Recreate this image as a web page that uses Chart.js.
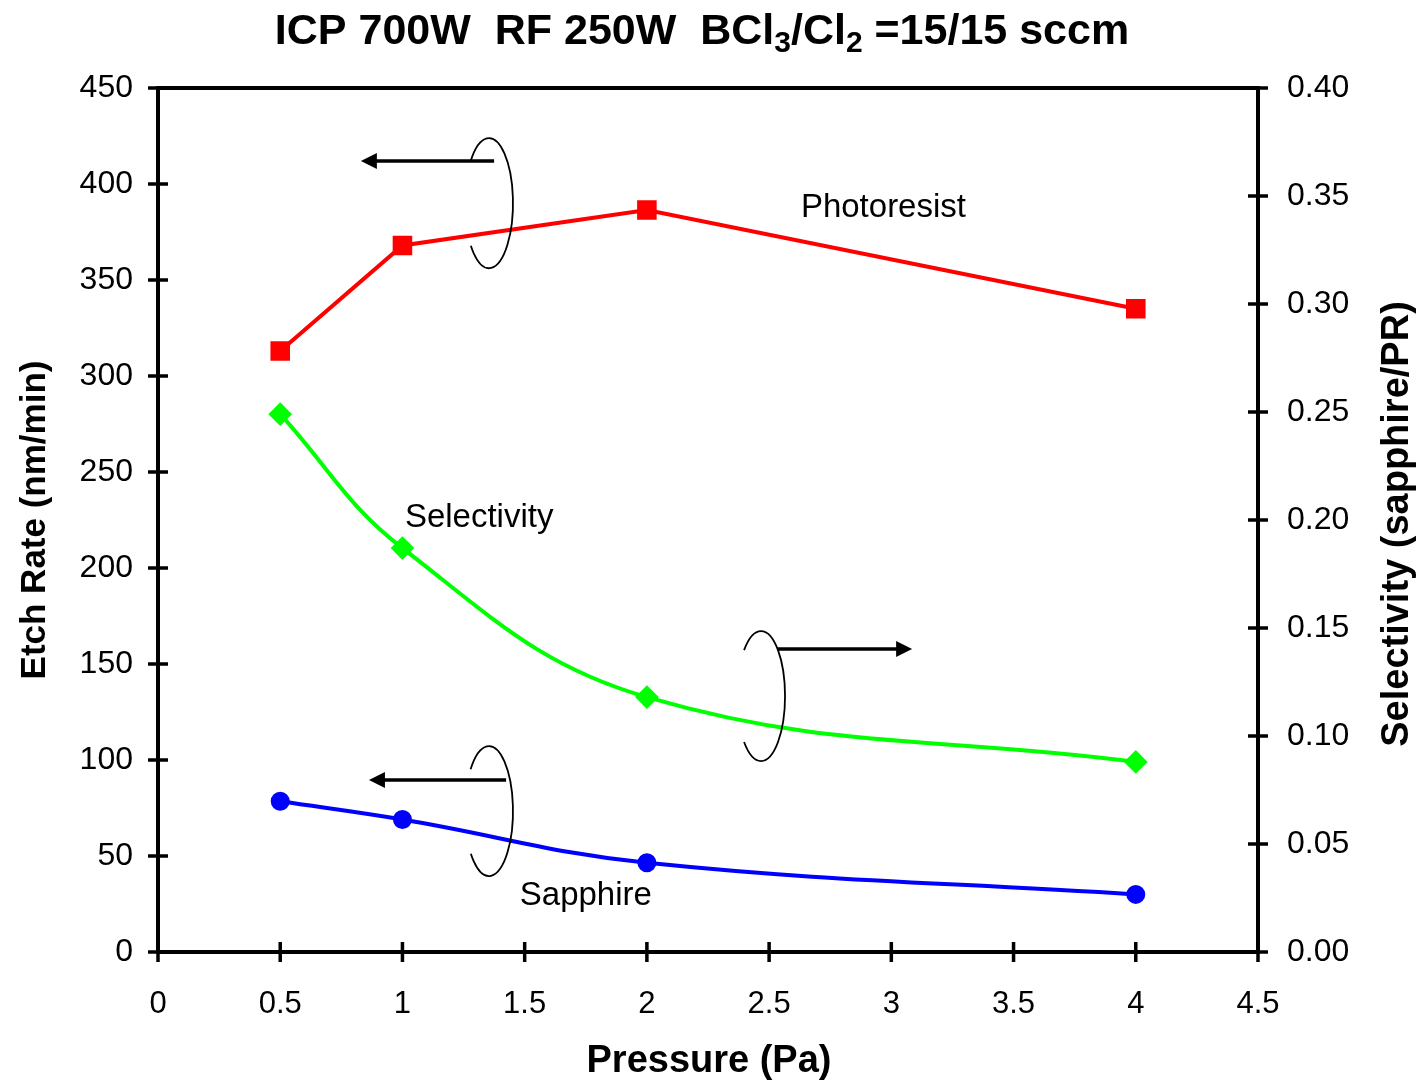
<!DOCTYPE html>
<html lang="en">
<head>
    <meta charset="UTF-8">
    <title>Etch rate vs pressure</title>
    <style>
        html, body { margin: 0; padding: 0; background: #fff; }
        canvas { display: block; }
    </style>
</head>
<body>
    <canvas id="etchChart" width="1420" height="1081"></canvas>
    <script src="https://cdn.jsdelivr.net/npm/chart.js"></script>
    <script>
        // data
        const pressure = [0.5, 1, 2, 4];
        const photoresist = [313, 368, 386.5, 335];
        const sapphire = [78.5, 69, 46.5, 30];
        const selectivity = [0.249, 0.187, 0.118, 0.088];

        const xMin = 0, xMax = 4.5, xStep = 0.5;
        const etchMin = 0, etchMax = 450, etchStep = 50;
        const selMin = 0, selMax = 0.4, selStep = 0.05;

        // labels and bracket arrows, in data units (axis = which y scale)
        const notes = [
            { text: 'Photoresist', x: 2.63, y: 387.5, axis: 'y' },
            { text: 'Selectivity', x: 1.01, y: 226, axis: 'y' },
            { text: 'Sapphire', x: 1.48, y: 29.2, axis: 'y' }
        ];
        const arrows = [
            { from: 1.375, to: 0.83, y: 412, cx: 1.354, cy: 390, a0: -140, a1: 139, axis: 'y' },
            { from: 2.533, to: 3.085, y: 0.1403, cx: 2.467, cy: 0.1185, a0: -135, a1: 135, axis: 'y1' },
            { from: 1.424, to: 0.863, y: 89.6, cx: 1.354, cy: 73.4, a0: -140, a1: 139, axis: 'y' }
        ];

        const FONT = 'Liberation Sans, Arial, sans-serif';

        function pts(ys) {
            return pressure.map((p, i) => ({ x: p, y: ys[i] }));
        }

        const framePlugin = {
            id: 'frame',
            afterDraw(chart) {
                const { ctx, chartArea: a, scales } = chart;
                ctx.save();
                ctx.strokeStyle = '#000';
                ctx.lineWidth = 4;
                ctx.strokeRect(a.left, a.top, a.right - a.left, a.bottom - a.top);
                ctx.lineWidth = 3.5;
                ctx.beginPath();
                scales.x.ticks.forEach(t => {
                    const px = scales.x.getPixelForValue(t.value);
                    ctx.moveTo(px, a.bottom - 10);
                    ctx.lineTo(px, a.bottom + 10);
                });
                scales.y.ticks.forEach(t => {
                    const py = scales.y.getPixelForValue(t.value);
                    ctx.moveTo(a.left - 10, py);
                    ctx.lineTo(a.left + 10, py);
                });
                scales.y1.ticks.forEach(t => {
                    const py = scales.y1.getPixelForValue(t.value);
                    ctx.moveTo(a.right - 10, py);
                    ctx.lineTo(a.right + 10, py);
                });
                ctx.stroke();
                ctx.restore();
            }
        };

        const notesPlugin = {
            id: 'notes',
            afterDraw(chart) {
                const { ctx, chartArea: a, scales } = chart;
                const sx = scales.x;
                ctx.save();
                ctx.fillStyle = '#000';
                ctx.strokeStyle = '#000';

                // text labels
                ctx.font = '33px ' + FONT;
                ctx.textAlign = 'left';
                ctx.textBaseline = 'middle';
                notes.forEach(n => {
                    ctx.fillText(n.text, sx.getPixelForValue(n.x), scales[n.axis].getPixelForValue(n.y));
                });

                // arrows with the little brackets
                arrows.forEach(ar => {
                    const sy = scales[ar.axis];
                    const x1 = sx.getPixelForValue(ar.from);
                    const x2 = sx.getPixelForValue(ar.to);
                    const y = sy.getPixelForValue(ar.y);
                    const dir = Math.sign(x2 - x1);
                    ctx.lineWidth = 3.5;
                    ctx.beginPath();
                    ctx.moveTo(x1, y);
                    ctx.lineTo(x2 - dir * 12, y);
                    ctx.stroke();
                    ctx.beginPath();
                    ctx.moveTo(x2, y);
                    ctx.lineTo(x2 - dir * 16, y - 8);
                    ctx.lineTo(x2 - dir * 16, y + 8);
                    ctx.closePath();
                    ctx.fill();

                    ctx.lineWidth = 1.8;
                    ctx.beginPath();
                    ctx.ellipse(sx.getPixelForValue(ar.cx), sy.getPixelForValue(ar.cy), 24, 65, 0,
                        ar.a0 * Math.PI / 180, ar.a1 * Math.PI / 180);
                    ctx.stroke();
                });

                // title with subscripts
                const parts = [
                    ['ICP 700W  RF 250W  BCl', false], ['3', true], ['/Cl', false], ['2', true], [' =15/15 sccm', false]
                ];
                const big = 'bold 43px ' + FONT, small = 'bold 30px ' + FONT;
                let total = 0;
                parts.forEach(p => { ctx.font = p[1] ? small : big; total += ctx.measureText(p[0]).width; });
                let tx = (a.left + a.right) / 2 - 6 - total / 2;
                const ty = a.top - 44;
                ctx.textBaseline = 'alphabetic';
                parts.forEach(p => {
                    ctx.font = p[1] ? small : big;
                    ctx.fillText(p[0], tx, p[1] ? ty + 8 : ty);
                    tx += ctx.measureText(p[0]).width;
                });

                // axis titles
                ctx.textAlign = 'center';
                ctx.textBaseline = 'middle';
                ctx.font = 'bold 38px ' + FONT;
                ctx.fillText('Pressure (Pa)', (a.left + a.right) / 2 + 1, a.bottom + 110);
                const midY = (a.top + a.bottom) / 2;
                ctx.save();
                ctx.font = 'bold 35px ' + FONT;
                ctx.translate(a.left - 123, midY);
                ctx.rotate(-Math.PI / 2);
                ctx.fillText('Etch Rate (nm/min)', 0, 0);
                ctx.restore();
                ctx.save();
                ctx.font = 'bold 38px ' + FONT;
                ctx.translate(a.right + 140, midY + 4);
                ctx.rotate(-Math.PI / 2);
                ctx.fillText('Selectivity (sapphire/PR)', 0, 0);
                ctx.restore();

                ctx.restore();
            }
        };

        const tickFont = { family: FONT, size: 32 };

        new Chart(document.getElementById('etchChart').getContext('2d'), {
            type: 'line',
            data: {
                datasets: [
                    {
                        label: 'Photoresist',
                        data: pts(photoresist),
                        yAxisID: 'y',
                        borderColor: '#ff0000',
                        backgroundColor: '#ff0000',
                        borderWidth: 4,
                        pointStyle: 'rect',
                        pointRadius: 11,
                        tension: 0
                    },
                    {
                        label: 'Selectivity',
                        data: pts(selectivity),
                        yAxisID: 'y1',
                        borderColor: '#00ff00',
                        backgroundColor: '#00ff00',
                        borderWidth: 4,
                        pointStyle: 'rectRot',
                        pointRadius: 9,
                        tension: 0.4
                    },
                    {
                        label: 'Sapphire',
                        data: pts(sapphire),
                        yAxisID: 'y',
                        borderColor: '#0000ff',
                        backgroundColor: '#0000ff',
                        borderWidth: 4,
                        pointStyle: 'circle',
                        pointRadius: 7.5,
                        tension: 0.4
                    }
                ]
            },
            options: {
                responsive: false,
                animation: false,
                layout: { padding: { top: 88, left: 0, right: 0, bottom: 0 } },
                plugins: { legend: { display: false }, tooltip: { enabled: false } },
                scales: {
                    x: {
                        type: 'linear',
                        min: xMin, max: xMax,
                        grid: { display: false },
                        border: { display: false },
                        ticks: { stepSize: xStep, color: '#000', font: { family: FONT, size: 31 }, padding: 26,
                            callback: v => String(Number(v.toFixed(1))) },
                        afterFit: s => { s.height = 129; }
                    },
                    y: {
                        position: 'left',
                        min: etchMin, max: etchMax,
                        grid: { display: false },
                        border: { display: false },
                        ticks: { stepSize: etchStep, color: '#000', font: tickFont, padding: 17 },
                        afterFit: s => { s.width = 158; }
                    },
                    y1: {
                        position: 'right',
                        min: selMin, max: selMax,
                        grid: { display: false },
                        border: { display: false },
                        ticks: { stepSize: selStep, color: '#000', font: tickFont, padding: 21,
                            callback: v => v.toFixed(2) },
                        afterFit: s => { s.width = 162; }
                    }
                }
            },
            plugins: [framePlugin, notesPlugin]
        });
    </script>
</body>
</html>
